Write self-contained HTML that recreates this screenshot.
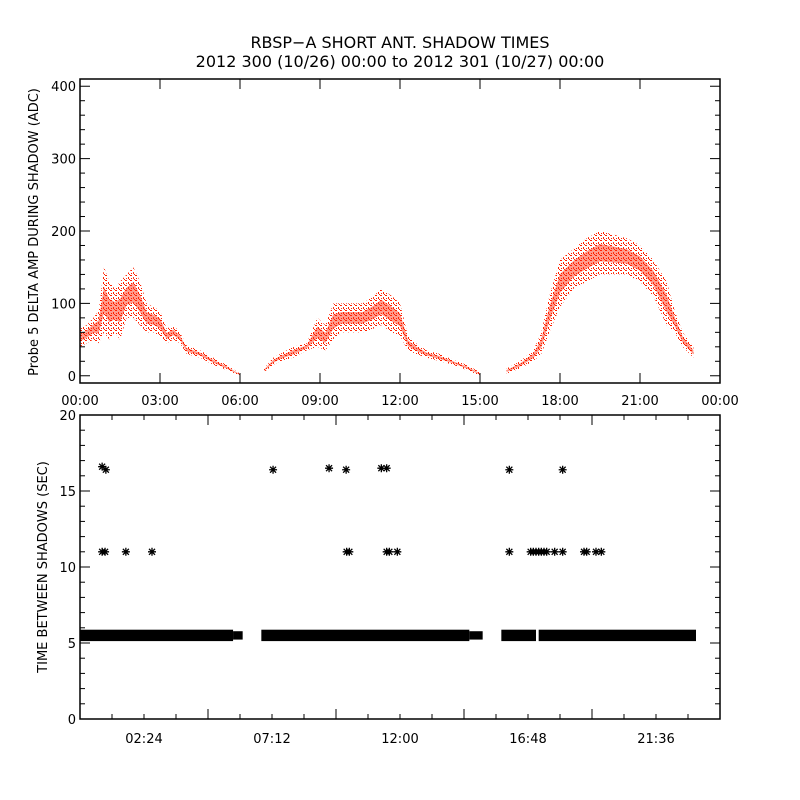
<!DOCTYPE html>
<html><head><meta charset="utf-8">
<style>
body{margin:0;background:#fff;}
svg{display:block;font-family:"DejaVu Sans","Liberation Sans",sans-serif;}
text{fill:#000;}
</style></head>
<body>
<svg id="chart" width="800" height="800" viewBox="0 0 800 800" xmlns="http://www.w3.org/2000/svg">
<defs>
<pattern id="speck" width="5" height="5" patternUnits="userSpaceOnUse">
<rect x="0" y="0" width="2" height="1" fill="#ff2200"/>
<rect x="3" y="2" width="1" height="2" fill="#ff2200"/>
<rect x="1" y="3" width="1" height="1" fill="#ff2200"/>
<rect x="4" y="4" width="1" height="1" fill="#ff2200"/>
</pattern>
</defs>
<text x="400" y="48" font-size="16" text-anchor="middle">RBSP−A SHORT ANT. SHADOW TIMES</text>
<text x="400" y="67" font-size="16" text-anchor="middle">2012 300 (10/26) 00:00 to 2012 301 (10/27) 00:00</text>
<g id="top"></g>
<g id="bot"></g>
<text transform="translate(38,232) rotate(-90)" font-size="13" text-anchor="middle">Probe 5 DELTA AMP DURING SHADOW (ADC)</text>
<text transform="translate(47,567) rotate(-90)" font-size="13" text-anchor="middle">TIME BETWEEN SHADOWS (SEC)</text>
</svg>
<script>
// Top panel data: time (hours), low and high amplitude envelopes
const ampT1=[0,0.25,0.5,0.7,0.9,1.1,1.3,1.5,1.75,2.0,2.25,2.5,2.75,3.0,3.25,3.5,3.75,4.0,4.5,5.0,5.5,6.0];
const ampLo1=[40,45,50,45,60,50,60,50,80,80,70,60,60,55,45,50,45,30,25,15,8,0];
const ampHi1=[65,70,80,90,150,130,120,130,140,150,130,100,95,90,65,70,60,42,35,25,15,3];
const ampT2=[6.9,7.25,7.5,8.0,8.5,8.9,9.2,9.5,9.8,10.2,10.6,11.0,11.3,11.7,12.0,12.3,12.6,13.0,13.5,14.0,14.5,15.0];
const ampLo2=[5,15,20,25,35,40,35,50,60,60,60,65,70,60,55,35,30,25,20,15,8,0];
const ampHi2=[10,25,30,40,45,80,70,100,100,100,100,110,120,110,100,55,45,35,30,22,15,5];
const ampT3=[16.0,16.5,17.0,17.3,17.6,18.0,18.5,19.0,19.5,20.0,20.5,21.0,21.5,22.0,22.3,22.6,23.0];
const ampLo3=[3,10,20,30,60,95,120,130,140,140,140,130,110,70,60,40,25];
const ampHi3=[10,20,35,60,110,160,175,190,200,195,190,180,160,130,90,60,40];
const topTickLabels=["00:00","03:00","06:00","09:00","12:00","15:00","18:00","21:00","00:00"];
const topYTicks=[0,100,200,300,400];
// Bottom panel data
const bandStart=[0,5.74,6.8,14.6,15.8,17.2];
const bandEnd=[5.74,6.1,14.6,15.1,17.1,23.1];
const bandVal=[5.5,5.5,5.5,5.5,5.5,5.5];
const starT=[0.83,0.97,7.24,9.34,9.98,11.3,11.5,16.1,18.1,0.83,0.94,1.72,2.7,10.0,10.1,11.5,11.6,11.9,16.1,16.9,17.0,17.1,17.2,17.3,17.4,17.5,17.8,18.1,18.9,19.0,19.35,19.55];
const starV=[16.6,16.4,16.4,16.5,16.4,16.5,16.5,16.4,16.4,11,11,11,11,11,11,11,11,11,11,11,11,11,11,11,11,11,11,11,11,11,11,11];
const botTickLabels=["02:24","07:12","12:00","16:48","21:36"];
const botYTicks=[0,5,10,15,20];

const NS="http://www.w3.org/2000/svg";
function mk(parent,tag,attrs){const e=document.createElementNS(NS,tag);for(const k in attrs)e.setAttribute(k,attrs[k]);parent.appendChild(e);return e;}
const X0=80,X1=720;
const xs=h=>X0+(h/24)*(X1-X0);
const TY0=79,TY1=383;
const ty=v=>TY1-(v+10)/420*(TY1-TY0);
const gT=document.getElementById('top');
const gB=document.getElementById('bot');
function drawSeg(T,L,H){
  for(let i=0;i<T.length-1;i++){
    const x=xs(T[i]),x2=xs(T[i+1]);
    const p=`M${x},${ty(L[i])} L${x2},${ty(L[i+1])} L${x2},${ty(H[i+1])} L${x},${ty(H[i])} Z`;
    const el=mk(gT,'path',{d:p,fill:'url(#speck)'});
    
    
    const a=L[i]*0.7+H[i]*0.3,b=L[i+1]*0.7+H[i+1]*0.3;
    const c=H[i]*0.7+L[i]*0.3,d=H[i+1]*0.7+L[i+1]*0.3;
    const core=`M${x},${ty(a)} L${x2},${ty(b)} L${x2},${ty(d)} L${x},${ty(c)} Z`;
    const m=mk(gT,'path',{d:core,fill:'#ff2200','fill-opacity':0.45});
    
    
  }
}
drawSeg(ampT1,ampLo1,ampHi1);drawSeg(ampT2,ampLo2,ampHi2);drawSeg(ampT3,ampLo3,ampHi3);
const tf=mk(gT,'rect',{x:X0,y:TY0,width:X1-X0,height:TY1-TY0,fill:'none',stroke:'#000','stroke-width':1.5});


topTickLabels.forEach((l,i)=>{
  const x=xs(i*3);
  mk(gT,'line',{x1:x,y1:TY1,x2:x,y2:TY1-10,stroke:'#000'});
  mk(gT,'line',{x1:x,y1:TY0,x2:x,y2:TY0+10,stroke:'#000'});
  const t=mk(gT,'text',{x:x,y:TY1+22,'font-size':13,'text-anchor':'middle'});t.textContent=l;
  
  
});
for(let v=0;v<=400;v+=20){
  const y=ty(v),big=v%100===0?10:5;
  mk(gT,'line',{x1:X0,y1:y,x2:X0+big,y2:y,stroke:'#000'});
  mk(gT,'line',{x1:X1,y1:y,x2:X1-big,y2:y,stroke:'#000'});
}
topYTicks.forEach(v=>{const t=mk(gT,'text',{x:X0-4,y:ty(v)+5,'font-size':13,'text-anchor':'end'});t.textContent=v;
  
  });
const BY0=415,BY1=719;
const by=v=>BY1-v/20*(BY1-BY0);
bandStart.forEach((s,i)=>{
  const h=(i===1||i===3)?0.55:0.75;
  const r=mk(gB,'rect',{x:xs(s),y:by(bandVal[i]+h/2),width:xs(bandEnd[i])-xs(s),height:by(bandVal[i]-h/2)-by(bandVal[i]+h/2),fill:'#000'});
  
  
});
starT.forEach((t,i)=>{
  const cx=xs(t),cy=by(starV[i]);
  const s=mk(gB,'path',{d:`M${cx-4},${cy} H${cx+4} M${cx},${cy-4} V${cy+4} M${cx-3},${cy-3} L${cx+3},${cy+3} M${cx-3},${cy+3} L${cx+3},${cy-3}`,stroke:'#000','stroke-width':1.3,fill:'none'});
  
  
});
const bf=mk(gB,'rect',{x:X0,y:BY0,width:X1-X0,height:BY1-BY0,fill:'none',stroke:'#000','stroke-width':1.5});


for(let k=1;k<20;k++){
  const x=xs(k*1.2),big=k%4===0?10:5;
  mk(gB,'line',{x1:x,y1:BY1,x2:x,y2:BY1-big,stroke:'#000'});
  mk(gB,'line',{x1:x,y1:BY0,x2:x,y2:BY0+big,stroke:'#000'});
}
botTickLabels.forEach((l,i)=>{const t=mk(gB,'text',{x:xs((i+0.5)*4.8),y:BY1+24,'font-size':13,'text-anchor':'middle'});t.textContent=l;
  
  });
for(let v=0;v<=20;v+=1){
  const y=by(v),big=v%5===0?10:5;
  mk(gB,'line',{x1:X0,y1:y,x2:X0+big,y2:y,stroke:'#000'});
  mk(gB,'line',{x1:X1,y1:y,x2:X1-big,y2:y,stroke:'#000'});
}
botYTicks.forEach(v=>{const t=mk(gB,'text',{x:X0-4,y:by(v)+5,'font-size':13,'text-anchor':'end'});t.textContent=v;
  
  });
</script>
</body></html>
